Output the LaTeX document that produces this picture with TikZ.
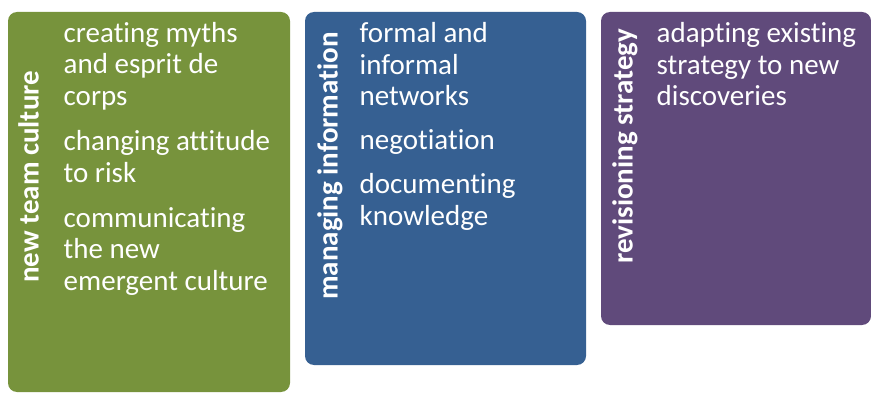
\documentclass[tikz,border=0pt]{standalone}
\usepackage{fontspec}
\setmainfont{Carlito}[Ligatures={NoCommon,NoContextual}]
\definecolor{teamgreen}{HTML}{77933C}
\definecolor{infoblue}{HTML}{366092}
\definecolor{stratpurple}{HTML}{604A7B}
\tikzset{
    panel/.style={fill=#1, rounded corners=9pt},
    heading/.style={rotate=90, anchor=base west, inner sep=0pt, text=white,
        font=\fontsize{29}{32}\selectfont\bfseries},
    items/.style={anchor=base west, inner sep=0pt, align=left, text=white,
        font=\fontsize{29}{31.6}\selectfont}
}

\begin{document}
\begin{tikzpicture}[x=1pt,y=-1pt]
    \useasboundingbox (0,0) rectangle (871,393);
    % the three panels
    \fill[panel=teamgreen] (8,12) rectangle (290,392);
    \fill[panel=infoblue] (305,12) rectangle (586,365);
    \fill[panel=stratpurple] (601,12) rectangle (871,325);
    % rotated headings
    \node[heading] (culture) at (38.5,283) {new team culture};
    \node[heading] (information) at (337.5,300) {managing information};
    \node[heading] (strategy) at (632.5,264) {revisioning strategy};
    % items (anchored at the baseline of the last line)
    \node[items] (cultureitems) at (63.5,290.3) {creating myths\\ and esprit de\\ corps\\[13.4pt]
        changing attitude\\ to risk\\[13.4pt]
        communicating\\ the new\\ emergent culture};
    \node[items] (infoitems) at (359.5,225.3) {formal and\\ informal\\ networks\\[12.4pt]
        negotiation\\[12.4pt]
        documenting\\ knowledge};
    \node[items] (strategyitems) at (656.5,105.8) {adapting existing\\ strategy to new\\ discoveries};
\end{tikzpicture}
\end{document}
